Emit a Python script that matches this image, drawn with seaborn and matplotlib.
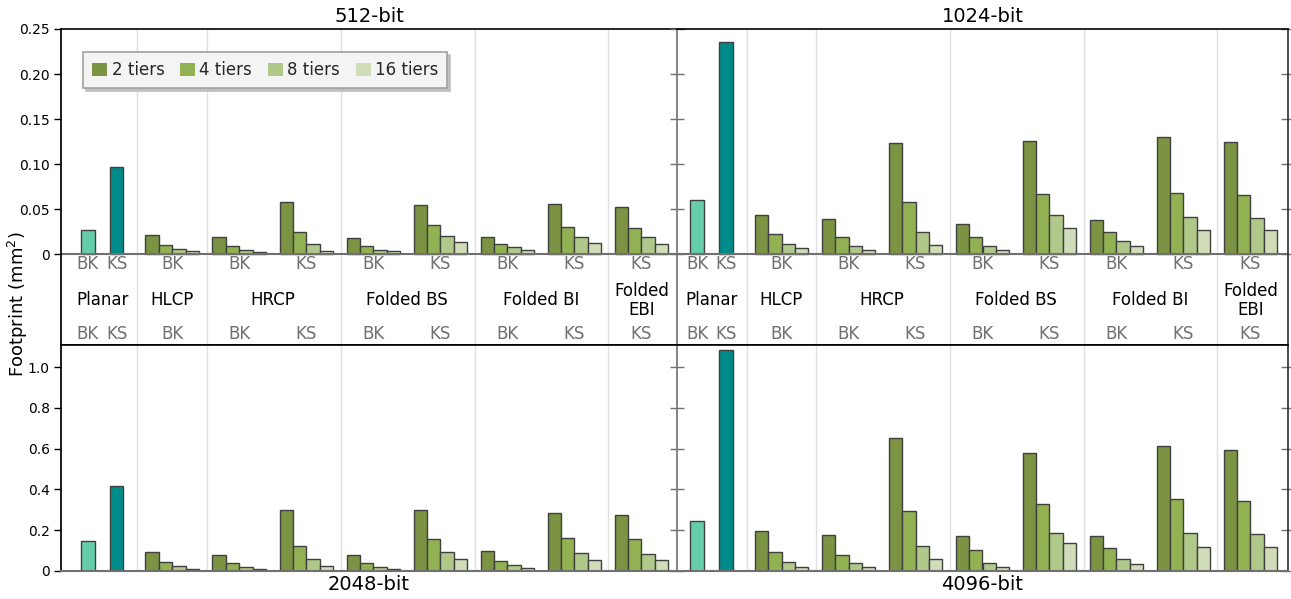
import numpy as np
import pandas as pd
import matplotlib
matplotlib.use("Agg")
import matplotlib.pyplot as plt
from matplotlib.patches import Patch
import seaborn as sns

sns.set_theme(style="white")
plt.rcParams['font.family'] = ['DejaVu Sans']

# ---------------- data ----------------
panels = ["512-bit", "1024-bit", "2048-bit", "4096-bit"]
group_names = ["Planar", "HLCP", "HRCP", "Folded BS", "Folded BI", "Folded EBI"]
group_labels = ["Planar", "HLCP", "HRCP", "Folded BS", "Folded BI", "Folded\nEBI"]
planar_kinds = ["BK", "KS"]
slot_group = ["HLCP", "HRCP", "HRCP", "Folded BS", "Folded BS",
              "Folded BI", "Folded BI", "Folded EBI"]
slot_kind = ["BK", "BK", "KS", "BK", "KS", "BK", "KS", "KS"]
tiers = ["2 tiers", "4 tiers", "8 tiers", "16 tiers"]

planar_512 = [0.027, 0.097]
tiers_512 = [
    [0.0206, 0.0100, 0.0060, 0.0030],
    [0.0190, 0.0090, 0.0050, 0.0025],
    [0.0580, 0.0248, 0.0108, 0.0037],
    [0.0178, 0.0085, 0.0050, 0.0030],
    [0.0540, 0.0320, 0.0200, 0.0137],
    [0.0190, 0.0115, 0.0074, 0.0048],
    [0.0560, 0.0300, 0.0190, 0.0126],
    [0.0526, 0.0289, 0.0189, 0.0115],
]
planar_1024 = [0.0604, 0.2356]
tiers_1024 = [
    [0.0430, 0.0226, 0.0107, 0.0063],
    [0.0393, 0.0193, 0.0092, 0.0048],
    [0.1237, 0.0580, 0.0248, 0.0104],
    [0.0337, 0.0189, 0.0093, 0.0048],
    [0.1259, 0.0670, 0.0433, 0.0293],
    [0.0381, 0.0244, 0.0148, 0.0093],
    [0.1304, 0.0681, 0.0415, 0.0270],
    [0.1248, 0.0656, 0.0404, 0.0263],
]
planar_2048 = [0.149, 0.417]
tiers_2048 = [
    [0.095, 0.046, 0.0245, 0.0118],
    [0.080, 0.039, 0.0196, 0.0098],
    [0.2975, 0.1245, 0.0588, 0.0245],
    [0.080, 0.0377, 0.018, 0.0098],
    [0.301, 0.159, 0.093, 0.0608],
    [0.098, 0.051, 0.0294, 0.0147],
    [0.283, 0.162, 0.088, 0.056],
    [0.273, 0.155, 0.085, 0.054],
]
planar_4096 = [0.2436, 1.085]
tiers_4096 = [
    [0.198, 0.0917, 0.046, 0.0196],
    [0.1765, 0.078, 0.039, 0.0196],
    [0.652, 0.296, 0.1225, 0.057],
    [0.1735, 0.103, 0.039, 0.018],
    [0.578, 0.328, 0.188, 0.137],
    [0.1735, 0.113, 0.059, 0.034],
    [0.613, 0.351, 0.186, 0.1196],
    [0.593, 0.342, 0.181, 0.1176],
]

top_ticks = [0, 0.05, 0.10, 0.15, 0.20, 0.25]
top_ticklabels = ["0", "0.05", "0.10", "0.15", "0.20", "0.25"]
bot_ticks = [0, 0.2, 0.4, 0.6, 0.8, 1.0]
bot_ticklabels = ["0", "0.2", "0.4", "0.6", "0.8", "1.0"]

# ---------------- styling / layout ----------------
palette = {"Planar BK": "#66cdaa", "Planar KS": "#008b8b",
           "2 tiers": "#7b9343", "4 tiers": "#92b152",
           "8 tiers": "#b0c98a", "16 tiers": "#d0ddb8"}
hue_order = ["Planar BK", "Planar KS"] + tiers
planar_pos = [0.40, 0.83]
slot_pos = [1.66 + i for i in range(len(slot_kind))]
tier_off = [-0.3, -0.1, 0.1, 0.3]
separators = [1.14, 2.18, 4.18, 6.18, 8.16]
GRAY = "#707070"


def build_df(planar, tv):
    rows = []
    for k, v, p in zip(planar_kinds, planar, planar_pos):
        rows.append({"x": p, "value": v, "series": "Planar " + k})
    for s, vals in enumerate(tv):
        for t, (name, v) in enumerate(zip(tiers, vals)):
            rows.append({"x": round(slot_pos[s] + tier_off[t], 4),
                         "value": v, "series": name})
    return pd.DataFrame(rows)


fig = plt.figure(figsize=(12.91, 5.99), dpi=100)
L, M, R = 61 / 1291, 677 / 1291, 1288 / 1291
T, C, B = 1 - 29 / 599, 1 - 345 / 599, 1 - 571 / 599

axes_spec = [
    ("512-bit", planar_512, tiers_512, [L, C, M - L, T - C], "top", "left"),
    ("1024-bit", planar_1024, tiers_1024, [M, C, R - M, T - C], "top", "right"),
    ("2048-bit", planar_2048, tiers_2048, [L, B, M - L, C - B], "bot", "left"),
    ("4096-bit", planar_4096, tiers_4096, [M, B, R - M, C - B], "bot", "right"),
]

for title, pl, tv, rect, row, side in axes_spec:
    ax = fig.add_axes(rect)
    df = build_df(pl, tv)
    sns.barplot(data=df, x="x", y="value", hue="series", hue_order=hue_order,
                palette=palette, native_scale=True, dodge=False, width=1.0,
                errorbar=None, edgecolor="#404040", linewidth=1.0,
                legend=False, orient="x", ax=ax, zorder=3, saturation=1)
    ax.set_xlabel("")
    ax.set_ylabel("")
    ax.set_xticks([])
    ax.set_xlim((0.0, 9.19) if side == "left" else (0.10, 9.22))
    for sx in separators:
        ax.axvline(sx, color="#e0e0e0", lw=1.0, zorder=1)

    if row == "top":
        ax.set_ylim(-0.1011, 0.25)
        ax.set_yticks(top_ticks)
        ax.set_yticklabels(top_ticklabels)
        ax.axhline(0, color=GRAY, lw=1.5, zorder=4)
        ax.text(0.5, 1.039, title, transform=ax.transAxes, ha="center",
                va="center", fontsize=14, color="black")
        # tick labels (BK / KS) and group names
        for k, p in zip(planar_kinds, planar_pos):
            ax.text(p, -0.011, k, ha="center", va="center", fontsize=12, color=GRAY)
            ax.text(p, -0.089, k, ha="center", va="center", fontsize=12, color=GRAY)
        for k, p in zip(slot_kind, slot_pos):
            ax.text(p, -0.011, k, ha="center", va="center", fontsize=12, color=GRAY)
            ax.text(p, -0.089, k, ha="center", va="center", fontsize=12, color=GRAY)
        for g, lab in zip(group_names, group_labels):
            if g == "Planar":
                gx = np.mean(planar_pos)
            else:
                gx = np.mean([p for p, sg in zip(slot_pos, slot_group) if sg == g])
            ax.text(gx, -0.0515, lab, ha="center", va="center", fontsize=12,
                    color="black", linespacing=1.1)
        ax.spines["bottom"].set_color("black")
    else:
        ax.set_ylim(0, 1.108)
        ax.set_yticks(bot_ticks)
        ax.set_yticklabels(bot_ticklabels)
        ax.spines["bottom"].set_color(GRAY)
        ax.spines["bottom"].set_linewidth(1.5)
        ax.text(0.5, -0.06, title, transform=ax.transAxes, ha="center",
                va="center", fontsize=14, color="black")

    ax.spines["top"].set_color("black")
    ax.spines["top"].set_linewidth(1.2)
    for sp in ax.spines.values():
        sp.set_visible(True)
        sp.set_zorder(5)
    if side == "left":
        ax.spines["right"].set_visible(False)
        ax.spines["left"].set_color("black")
        ax.tick_params(axis="y", which="both", left=True, right=False,
                       direction="out", length=5, width=1, color="black",
                       labelsize=10, labelcolor="black", pad=3)
    else:
        ax.spines["left"].set_color(GRAY)
        ax.spines["left"].set_linewidth(1.2)
        ax.spines["right"].set_color("#333333")
        ax.tick_params(axis="y", which="both", left=True, right=True,
                       direction="inout", length=10, width=1, color=GRAY,
                       labelleft=False, labelright=False)
    ax.set_facecolor("white")
    ax.grid(False)

    if title == "512-bit":
        handles = [Patch(facecolor=palette[t], edgecolor="none", label=t) for t in tiers]
        leg = ax.legend(handles=handles, loc="upper left",
                        bbox_to_anchor=(0.036, 0.927), borderaxespad=0,
                        ncol=4, fontsize=12, frameon=True, fancybox=False,
                        shadow={"color": "0.75", "alpha": 1.0},
                        handlelength=0.9, handleheight=0.85,
                        handletextpad=0.25, columnspacing=0.95, borderpad=0.55)
        leg.get_frame().set_facecolor("#f4f4f4")
        leg.get_frame().set_edgecolor("#a0a0a0")
        leg.get_frame().set_linewidth(1.2)
        leg.set_zorder(10)

fig.text(0.014, 0.4925, "Footprint (mm$^2$)", rotation=90, ha="center",
         va="center", fontsize=13, color="black")

fig.savefig("out.png", dpi=100)
